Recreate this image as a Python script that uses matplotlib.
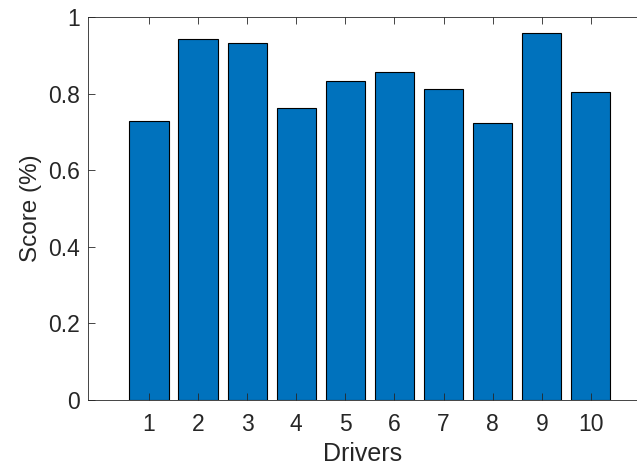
import matplotlib
matplotlib.use("Agg")
import matplotlib.pyplot as plt

drivers = [1, 2, 3, 4, 5, 6, 7, 8, 9, 10]
scores = [0.728, 0.943, 0.931, 0.763, 0.834, 0.856, 0.811, 0.723, 0.958, 0.803]
yticks = [0, 0.2, 0.4, 0.6, 0.8, 1]
ytick_labels = ["0", "0.2", "0.4", "0.6", "0.8", "1"]

plt.rcParams['font.family'] = ['Liberation Sans', 'DejaVu Sans']
axcol = '#262626'

fig = plt.figure(figsize=(6.37, 4.65), dpi=100)
ax = fig.add_axes([88/637, 65/465, 1 - 88/637, 383/465])
ax.bar(drivers, scores, width=0.8, color='#0072BD', edgecolor='black', linewidth=0.8)
ax.set_xlim(-0.242, 10.94)
ax.set_ylim(0, 1)
ax.set_xticks(drivers)
ax.set_xticklabels([str(d) for d in drivers])
ax.set_yticks(yticks)
ax.set_yticklabels(ytick_labels)
ax.tick_params(direction='in', length=5, width=0.6, colors=axcol, labelsize=16.5,
               top=True, right=False)
ax.tick_params(axis='x', pad=9)
ax.tick_params(axis='y', pad=6)
for s in ['left', 'bottom', 'top']:
    ax.spines[s].set_color(axcol)
    ax.spines[s].set_linewidth(0.6)
ax.spines['right'].set_visible(False)
ax.set_xlabel('Drivers', fontsize=18, color=axcol, labelpad=4.5)
ax.set_ylabel('Score (%)', fontsize=17.5, color=axcol, labelpad=4)
fig.savefig('out.png', dpi=100)
